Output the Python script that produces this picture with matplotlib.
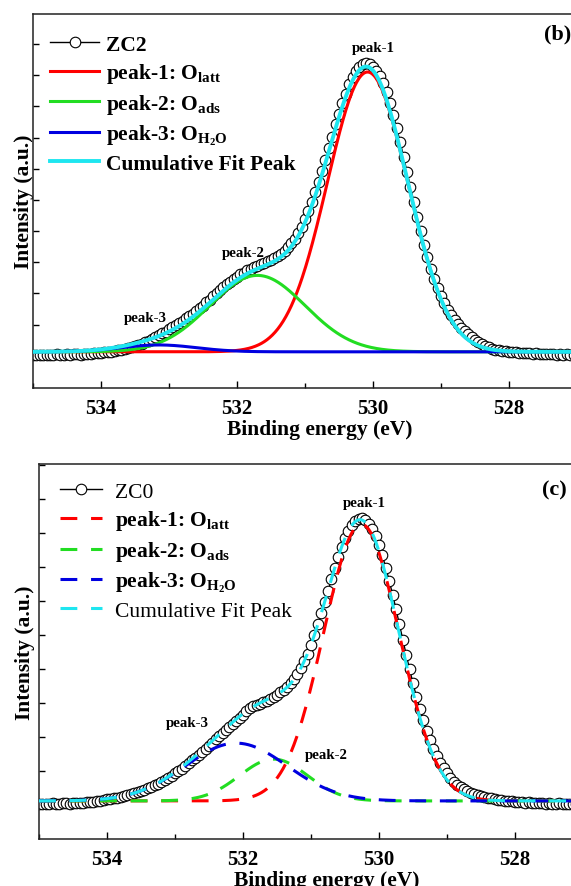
import numpy as np
import matplotlib.pyplot as plt
from matplotlib.ticker import MultipleLocator

plt.rcParams['font.family'] = ['Liberation Serif', 'DejaVu Serif']
plt.rcParams['font.weight'] = 'bold'
plt.rcParams['mathtext.fontset'] = 'custom'
plt.rcParams['mathtext.rm'] = 'Liberation Serif:bold'
plt.rcParams['mathtext.it'] = 'Liberation Serif:italic:bold'
plt.rcParams['mathtext.bf'] = 'Liberation Serif:bold'

# binding energy of the measured O 1s spectra, 535 -> 527 eV, 0.05 eV step
energy = np.round(np.arange(535.0, 526.99, -0.05), 2)

zc2_counts = [
    0.03, 0.02, 0.04, 0.03, 0.02, 0.04, 0.03, 0.05, 0.04, 0.03,
    0.05, 0.04, 0.06, 0.05, 0.04, 0.06, 0.07, 0.06, 0.08, 0.09,
    0.10, 0.11, 0.12, 0.14, 0.16, 0.18, 0.20, 0.23, 0.25, 0.28,
    0.31, 0.35, 0.39, 0.44, 0.49, 0.54, 0.60, 0.66, 0.72, 0.78,
    0.86, 0.92, 0.99, 1.06, 1.12, 1.20, 1.28, 1.35, 1.44, 1.52,
    1.61, 1.72, 1.80, 1.92, 2.01, 2.12, 2.21, 2.30, 2.38, 2.46,
    2.52, 2.61, 2.66, 2.74, 2.79, 2.86, 2.89, 2.96, 2.98, 3.05,
    3.08, 3.15, 3.21, 3.28, 3.37, 3.48, 3.61, 3.76, 3.94, 4.14,
    4.38, 4.63, 4.92, 5.25, 5.56, 5.93, 6.28, 6.67, 7.03, 7.42,
    7.76, 8.12, 8.41, 8.71, 8.93, 9.14, 9.26, 9.37, 9.38, 9.36,
    9.27, 9.14, 8.96, 8.74, 8.46, 8.10, 7.72, 7.29, 6.85, 6.38,
    5.90, 5.42, 4.94, 4.46, 4.00, 3.56, 3.16, 2.80, 2.47, 2.18,
    1.91, 1.68, 1.48, 1.31, 1.15, 1.02, 0.89, 0.79, 0.69, 0.60,
    0.52, 0.45, 0.39, 0.33, 0.27, 0.23, 0.20, 0.18, 0.16, 0.15,
    0.14, 0.12, 0.11, 0.10, 0.09, 0.10, 0.08, 0.07, 0.08, 0.06,
    0.07, 0.05, 0.06, 0.05, 0.04, 0.05, 0.04, 0.05, 0.03, 0.04,
    0.03,
]

zc0_counts = [
    0.03, 0.02, 0.04, 0.03, 0.05, 0.04, 0.03, 0.05, 0.06, 0.04,
    0.05, 0.06, 0.05, 0.07, 0.08, 0.09, 0.10, 0.11, 0.13, 0.14,
    0.17, 0.18, 0.20, 0.22, 0.24, 0.26, 0.29, 0.31, 0.34, 0.37,
    0.41, 0.45, 0.49, 0.54, 0.58, 0.63, 0.69, 0.74, 0.80, 0.86,
    0.93, 1.00, 1.07, 1.15, 1.23, 1.31, 1.39, 1.47, 1.56, 1.65,
    1.74, 1.83, 1.93, 2.02, 2.11, 2.20, 2.30, 2.39, 2.48, 2.57,
    2.66, 2.76, 2.85, 2.92, 2.94, 2.98, 3.02, 3.07, 3.12, 3.18,
    3.24, 3.31, 3.39, 3.48, 3.59, 3.71, 3.86, 4.03, 4.23, 4.45,
    4.70, 4.99, 5.31, 5.64, 5.96, 6.30, 6.65, 6.97, 7.30, 7.59,
    7.85, 8.07, 8.24, 8.36, 8.42, 8.43, 8.38, 8.27, 8.11, 7.90,
    7.64, 7.34, 6.98, 6.60, 6.19, 5.76, 5.31, 4.86, 4.42, 3.99,
    3.58, 3.19, 2.83, 2.49, 2.19, 1.91, 1.66, 1.44, 1.25, 1.08,
    0.93, 0.80, 0.69, 0.60, 0.52, 0.46, 0.40, 0.36, 0.32, 0.29,
    0.26, 0.24, 0.22, 0.20, 0.18, 0.16, 0.15, 0.13, 0.12, 0.11,
    0.10, 0.09, 0.08, 0.07, 0.08, 0.06, 0.07, 0.05, 0.06, 0.04,
    0.05, 0.04, 0.03, 0.05, 0.04, 0.03, 0.04, 0.03, 0.02, 0.04,
    0.03,
]

# Gaussian components of the fits: peak-1 (O_latt), peak-2 (O_ads), peak-3 (O_H2O)
zc2_centers = [530.08, 531.70, 533.15]
zc2_heights = [8.97, 2.45, 0.22]
zc2_sigmas = [0.59, 0.70, 0.55]
zc2_base = 0.13

zc0_centers = [530.26, 531.55, 532.10]
zc0_heights = [8.14, 1.23, 1.70]
zc0_sigmas = [0.555, 0.50, 0.75]
zc0_base = 0.12

peak_labels = [r'peak-1: O$_{\mathrm{latt}}$',
               r'peak-2: O$_{\mathrm{ads}}$',
               r'peak-3: O$_{\mathrm{H_2O}}$']
peak_colors = ['#ff0000', '#22dd22', '#0000e0']
sum_color = '#1ee6f0'

# where the peak-n tags sit (eV, intensity)
zc2_tag_x = [530.0, 531.9, 533.35]
zc2_tag_y = [9.9, 3.33, 1.22]
zc0_tag_x = [530.22, 530.78, 532.82]
zc0_tag_y = [8.91, 1.5, 2.44]


def gauss(e, c, h, s):
    return h * np.exp(-(e - c) ** 2 / (2 * s ** 2))


def draw_panel(ax, counts, centers, heights, sigmas, base, name, dashed,
               tag_x, tag_y, letter, letter_pos, ylim, leg_anchor,
               handle_len, text_pad):
    fine = np.linspace(535, 527, 801)
    ls = (0, (5.5, 4.5)) if dashed else '-'

    ax.plot(energy, counts, '-o', color='black', lw=1.0, ms=7.6,
            mfc='white', mec='black', mew=0.8, label=name, zorder=2)
    total = np.full_like(fine, base)
    for c, h, s, lab, col in zip(centers, heights, sigmas,
                                 peak_labels, peak_colors):
        comp = gauss(fine, c, h, s)
        total += comp
        ax.plot(fine, base + comp, color=col, lw=2.2, ls=ls, label=lab,
                zorder=3)
    ax.plot(fine, total, color=sum_color, lw=2.2 if dashed else 2.8,
            ls=ls, label='Cumulative Fit Peak', zorder=4)

    for i, (x, y) in enumerate(zip(tag_x, tag_y)):
        ax.text(x, y, 'peak-%d' % (i + 1), ha='center', va='center',
                fontsize=10.7, fontweight='bold')

    ax.set_xlim(535, 527)
    ax.set_ylim(*ylim)
    ax.xaxis.set_major_locator(MultipleLocator(2))
    ax.xaxis.set_minor_locator(MultipleLocator(1))
    ax.set_yticks(np.arange(0, ylim[1]))
    ax.tick_params(axis='x', which='major', direction='in', length=5,
                   width=1, labelsize=15, pad=7, top=False)
    ax.tick_params(axis='x', which='minor', direction='in', length=3.5,
                   width=1, top=False)
    ax.tick_params(axis='y', direction='in', length=4, width=1,
                   labelleft=False, right=False)
    for lab in ax.get_xticklabels():
        lab.set_fontweight('bold')
    for sp in ax.spines.values():
        sp.set_linewidth(1.1)
        sp.set_color('#222222')

    ax.set_xlabel('Binding energy (eV)', fontsize=15.5, fontweight='bold')
    ax.set_ylabel('Intensity (a.u.)', fontsize=15.5, fontweight='bold')

    leg = ax.legend(loc='upper left', bbox_to_anchor=leg_anchor,
                    frameon=False, fontsize=15.5, numpoints=1,
                    handlelength=handle_len, handletextpad=text_pad,
                    labelspacing=0.31, borderpad=0, borderaxespad=0)
    if dashed:
        leg.get_texts()[0].set_fontweight('normal')
        leg.get_texts()[-1].set_fontweight('normal')

    ax.text(letter_pos[0], letter_pos[1], letter, transform=ax.transAxes,
            ha='center', va='center', fontsize=16, fontweight='bold')
    return ax


fig = plt.figure(figsize=(5.71, 8.87), dpi=100)
ax1 = fig.add_axes([33 / 571, 1 - 389 / 887, 544 / 571, 374 / 887])
ax2 = fig.add_axes([39 / 571, 1 - 840 / 887, 544 / 571, 375 / 887])

draw_panel(ax1, zc2_counts, zc2_centers, zc2_heights, zc2_sigmas, zc2_base,
           'ZC2', False, zc2_tag_x, zc2_tag_y, '(b)', (0.965, 0.947),
           (-1.03, 10.96), (0.031, 0.945), 2.3, 0.3)
draw_panel(ax2, zc0_counts, zc0_centers, zc0_heights, zc0_sigmas, zc0_base,
           'ZC0', True, zc0_tag_x, zc0_tag_y, '(c)', (0.947, 0.933),
           (-1.0, 10.03), (0.039, 0.953), 1.95, 0.6)

ax1.xaxis.set_label_coords(0.528, -0.083)
ax2.xaxis.set_label_coords(0.529, -0.083)
ax1.yaxis.set_label_coords(0.001, 0.5)
ax2.yaxis.set_label_coords(-0.008, 0.5)

fig.savefig('out.png', dpi=100)
